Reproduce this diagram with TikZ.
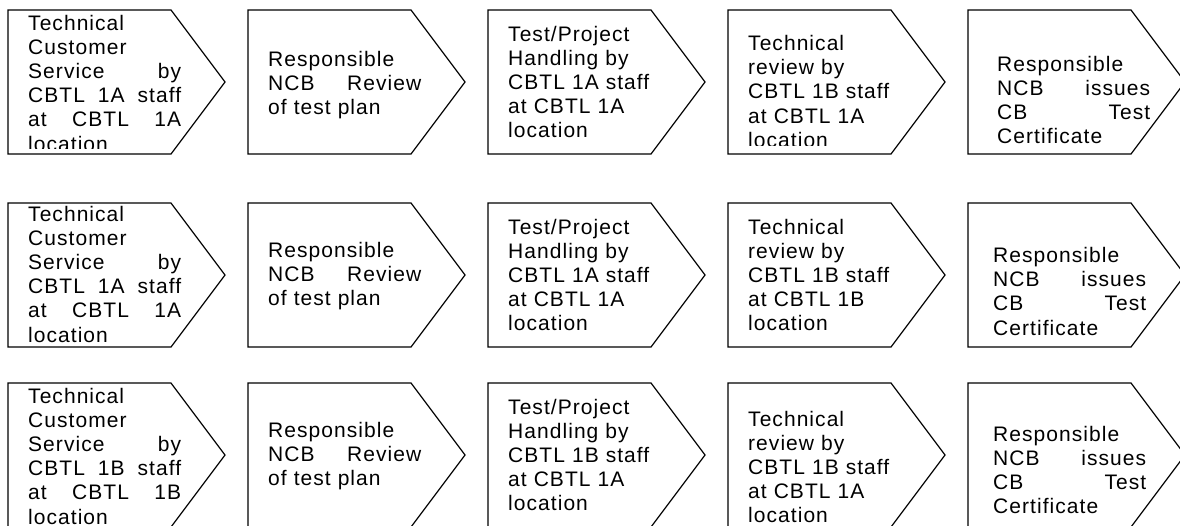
\documentclass[tikz,border=0pt]{standalone}
\usepackage{fontspec}
\newfontfamily\boxfont[LetterSpace=5,WordSpace=1.3]{Liberation Sans}
\begin{document}
\begin{tikzpicture}[x=1pt,y=-1pt,
  boxline/.style={draw=black,line width=1.2pt,line join=miter},
  txt/.style={font=\boxfont\fontsize{21pt}{24.2pt}\selectfont,text width=153pt,align=left,inner sep=0pt,anchor=base west,text=black}]
\useasboundingbox (0,0) rectangle (1180,525);
% chevron outlines
\foreach \t in {10,203,383}{
  \foreach \l in {8,248,488,728,968}{
    \draw[boxline] (\l,\t) -- ++(163,0) -- ++(54,72) -- ++(-54,72) -- ++(-163,0) -- cycle;
  }
}
% row 1
\begin{scope}
\clip (9,11) rectangle (200,148);
\node[txt] (t11) at (28,30) {Technical\\Customer\\Service\hfill by\\CBTL\hfill 1A\hfill staff\\at\hfill CBTL\hfill 1A\\location};
\end{scope}
\node[txt] (t12) at (268,66) {Responsible\\NCB\hfill Review\\of test plan};
\node[txt] (t13) at (508,41) {Test/Project\\Handling by\\CBTL 1A staff\\at CBTL 1A\\location};
\begin{scope}
\clip (729,11) rectangle (900,145);
\node[txt] (t14) at (748,50.5) {Technical\\review by\\CBTL 1B staff\\at CBTL 1A\\location};
\end{scope}
\node[txt] (t15) at (997,71) {Responsible\\NCB\hfill issues\\CB\hfill Test\\Certificate};
% row 2
\node[txt] (t21) at (28,221) {Technical\\Customer\\Service\hfill by\\CBTL\hfill 1A\hfill staff\\at\hfill CBTL\hfill 1A\\location};
\node[txt] (t22) at (268,257.5) {Responsible\\NCB\hfill Review\\of test plan};
\node[txt] (t23) at (508,234) {Test/Project\\Handling by\\CBTL 1A staff\\at CBTL 1A\\location};
\node[txt] (t24) at (748,234) {Technical\\review by\\CBTL 1B staff\\at CBTL 1B\\location};
\node[txt] (t25) at (993,262.5) {Responsible\\NCB\hfill issues\\CB\hfill Test\\Certificate};
% row 3
\node[txt] (t31) at (28,403) {Technical\\Customer\\Service\hfill by\\CBTL\hfill 1B\hfill staff\\at\hfill CBTL\hfill 1B\\location};
\node[txt] (t32) at (268,437.5) {Responsible\\NCB\hfill Review\\of test plan};
\node[txt] (t33) at (508,414) {Test/Project\\Handling by\\CBTL 1B staff\\at CBTL 1A\\location};
\node[txt] (t34) at (748,426) {Technical\\review by\\CBTL 1B staff\\at CBTL 1A\\location};
\node[txt] (t35) at (993,441) {Responsible\\NCB\hfill issues\\CB\hfill Test\\Certificate};
\end{tikzpicture}
\end{document}
